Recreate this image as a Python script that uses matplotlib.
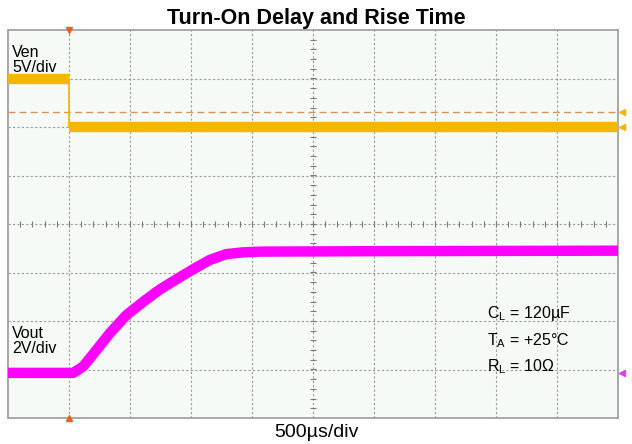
import numpy as np
import matplotlib
matplotlib.use("Agg")
import matplotlib.pyplot as plt

plt.rcParams['font.family'] = ['Liberation Sans', 'DejaVu Sans']
plt.rcParams['mathtext.fontset'] = 'custom'
plt.rcParams['mathtext.rm'] = 'Liberation Sans'

# time in divisions (500us/div), voltage in divisions
ven_t = [0.0, 1.0, 1.0, 10.0]
ven_v = [3.0, 3.0, 2.0, 2.0]
ven_ref = 2.3

vout_t = [0.0, 1.07, 1.23, 1.45, 1.67, 1.94, 2.22, 2.49, 2.76, 3.04, 3.31,
          3.58, 3.85, 4.13, 6.0, 8.0, 10.0]
vout_v = [-3.07, -3.07, -2.94, -2.60, -2.25, -1.88, -1.60, -1.35, -1.14, -0.93,
          -0.74, -0.62, -0.585, -0.57, -0.56, -0.555, -0.55]

trigger_t = 1.0

fig = plt.figure(figsize=(6.32, 4.44), dpi=100)
ax = fig.add_axes([8 / 632, 26 / 444, 610 / 632, 388 / 444])
ax.set_facecolor('#f5faf7')
ax.set_xlim(0, 10)
ax.set_ylim(-4, 4)

# scope graticule
for x in range(1, 10):
    ax.axvline(x, color='#9a9a9a', lw=0.8, ls=(0, (2, 2)), zorder=1)
for y in range(-3, 4):
    ax.axhline(y, color='#9a9a9a', lw=0.8, ls=(0, (2, 2)), zorder=1)
minor_x = np.arange(0.2, 10, 0.2)
minor_y = np.arange(-3.8, 4, 0.2)
ax.plot(minor_x, np.zeros_like(minor_x), ls='none', marker='|', ms=4, color='#7a7a7a', mew=0.8, zorder=1)
ax.plot(np.full_like(minor_y, 5.0), minor_y, ls='none', marker='_', ms=4, color='#7a7a7a', mew=0.8, zorder=1)

ax.set_xticks([])
ax.set_yticks([])
for s in ax.spines.values():
    s.set_color('#9a9a9a')
    s.set_linewidth(1.2)

# traces
ax.axhline(ven_ref, color='#d5935c', lw=1.0, ls=(0, (5, 3)), zorder=2)
ax.plot(ven_t[0:2], ven_v[0:2], color='#f7b500', lw=7.5, solid_capstyle='butt', zorder=3)
ax.plot(ven_t[1:3], ven_v[1:3], color='#f7b500', lw=1.2, zorder=3)
ax.plot(ven_t[2:4], ven_v[2:4], color='#f7b500', lw=7.5, solid_capstyle='butt', zorder=3)
ax.plot(vout_t, vout_v, color='#ff00ff', lw=7.5, solid_capstyle='butt', zorder=3)

# trigger markers
ax.plot([trigger_t], [4], marker='v', ms=5, color='#e8601c', clip_on=False, zorder=5)
ax.plot([trigger_t], [-4], marker='^', ms=5, color='#e8601c', clip_on=False, zorder=5)
ax.plot([10.07], [ven_ref], marker='<', ms=4, color='#f7b500', clip_on=False)
ax.plot([10.07], [2.0], marker='<', ms=4, color='#f7b500', clip_on=False)
ax.plot([10.07], [-3.07], marker='<', ms=4, color='#e040e0', clip_on=False)

ax.text(0.07, 3.7, 'Ven\n5V/div', fontsize=11.5, va='top', ha='left', linespacing=1.05)
ax.text(0.07, -2.1, 'Vout\n2V/div', fontsize=11.5, va='top', ha='left', linespacing=1.05)

ax.text(7.85, -1.85, r'C$_\mathregular{L}$ = 120µF', fontsize=11.5, va='center')
ax.text(7.85, -2.4, r'T$_\mathregular{A}$ = +25°C', fontsize=11.5, va='center')
ax.text(7.85, -2.95, r'R$_\mathregular{L}$ = 10Ω', fontsize=11.5, va='center')

fig.text(0.5, 0.958, 'Turn-On Delay and Rise Time', ha='center', va='center',
         fontsize=15.5, fontweight='bold')
fig.text(0.5, 0.027, '500µs/div', ha='center', va='center', fontsize=14)

fig.savefig('out.png', dpi=100)
